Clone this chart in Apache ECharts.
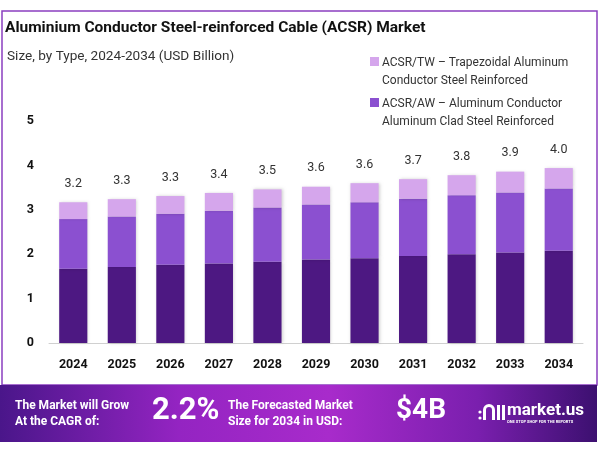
<!DOCTYPE html>
<html><head><meta charset="utf-8">
<script src="https://cdn.jsdelivr.net/npm/echarts@6/dist/echarts.min.js"></script>
<style>html,body{margin:0;padding:0;background:#fff}#c{width:600px;height:452px}</style>
</head><body><div id="c"></div>
<script>
const years = ['2024','2025','2026','2027','2028','2029','2030','2031','2032','2033','2034'];
const seriesNames = ['ACSR', 'ACSR/AW – Aluminum Conductor\nAluminum Clad Steel Reinforced', 'ACSR/TW – Trapezoidal Aluminum\nConductor Steel Reinforced'];
const baseValues = [1.67,1.71,1.76,1.79,1.83,1.88,1.91,1.96,2.00,2.04,2.08];
const awValues   = [1.12,1.14,1.15,1.19,1.22,1.24,1.26,1.29,1.33,1.35,1.40];
const twValues   = [0.38,0.39,0.40,0.40,0.41,0.40,0.43,0.44,0.45,0.47,0.46];
const totals     = ['3.2','3.3','3.3','3.4','3.5','3.6','3.6','3.7','3.8','3.9','4.0'];
const colors = ['#4d1882','#8b50d0','#d5a6ec'];

const chart = echarts.init(document.getElementById('c'), null, {renderer:'canvas'});
const shadow = {shadowBlur:3, shadowColor:'rgba(0,0,0,0.18)', shadowOffsetX:1, shadowOffsetY:0};
const mkSeries = (i, data, extra) => Object.assign({
  name: seriesNames[i], type:'bar', stack:'s', data: data, barWidth:'58%',
  itemStyle: Object.assign({color: colors[i]}, shadow)
}, extra||{});

const legendItems = [
  {color: colors[2], lines: seriesNames[2].split('\n'), y: 62},
  {color: colors[1], lines: seriesNames[1].split('\n'), y: 103}
];
const legendGraphics = [];
legendItems.forEach(it => {
  legendGraphics.push({type:'rect', shape:{x:370, y:it.y-5, width:9, height:9}, style:{fill:it.color}});
  legendGraphics.push({type:'text', x:382, y:it.y-8, style:{text: it.lines.join('\n'), fill:'#333', font:'12px Roboto', lineHeight:18}});
});

chart.setOption({
  animation:false,
  grid:{left:49, right:17, top:121, bottom:109},
  xAxis:{type:'category', data:years, axisTick:{show:false},
    axisLine:{lineStyle:{color:'#d0d0d0'}},
    axisLabel:{color:'#111', fontWeight:'bold', fontSize:12.5, fontFamily:'Roboto', margin:15}},
  yAxis:{type:'value', min:0, max:5, interval:1, splitLine:{show:false},
    axisLabel:{color:'#111', fontWeight:'bold', fontSize:12.5, fontFamily:'Roboto', margin:15}},
  series:[
    mkSeries(0, baseValues),
    mkSeries(1, awValues),
    mkSeries(2, twValues, {label:{show:true, position:'top', distance:12, color:'#333', fontSize:12.5, fontFamily:'Roboto',
      formatter: p => totals[p.dataIndex]}})
  ],
  graphic:[
    {type:'rect', shape:{x:2, y:11, width:595, height:374}, style:{fill:'none', stroke:'#8a3fc0', lineWidth:1.5}, z:-1},
    {type:'text', x:5, y:20, style:{text:'Aluminium Conductor Steel-reinforced Cable (ACSR) Market', fill:'#111', font:'bold 15.5px Roboto'}},
    {type:'text', x:7, y:50, style:{text:'Size, by Type, 2024-2034 (USD Billion)', fill:'#333', font:'13.6px Roboto'}},
    ...legendGraphics,
    {type:'rect', shape:{x:0, y:385, width:597, height:57},
      style:{fill:{type:'linear', x:0, y:0, x2:1, y2:0, colorStops:[
        {offset:0, color:'#4a168a'},{offset:0.3, color:'#9424c2'},{offset:0.55, color:'#a82bcb'},
        {offset:0.8, color:'#7a1fae'},{offset:1, color:'#3c1070'}]}}},
    {type:'text', x:15, y:398, style:{text:'The Market will Grow\nAt the CAGR of:', fill:'#fff', font:'bold 12px Roboto', lineHeight:16}},
    {type:'text', x:152, y:396, style:{text:'2.2%', fill:'#fff', font:'bold 31px Roboto', shadowBlur:4, shadowColor:'rgba(0,0,0,0.35)', shadowOffsetY:2}},
    {type:'text', x:228, y:398, style:{text:'The Forecasted Market\nSize for 2034 in USD:', fill:'#fff', font:'bold 12px Roboto', lineHeight:16}},
    {type:'text', x:396, y:397, style:{text:'$4B', fill:'#fff', font:'bold 28px Roboto', shadowBlur:4, shadowColor:'rgba(0,0,0,0.35)', shadowOffsetY:2}},
    {type:'circle', shape:{cx:480, cy:412, r:1.6}, style:{fill:'#fff'}},
    {type:'circle', shape:{cx:480, cy:418, r:1.6}, style:{fill:'#fff'}},
    {type:'arc', shape:{cx:489, cy:410, r:4.5, startAngle:Math.PI, endAngle:2*Math.PI}, style:{fill:'none', stroke:'#fff', lineWidth:3}},
    {type:'rect', shape:{x:483, y:410, width:3, height:10}, style:{fill:'#fff'}},
    {type:'rect', shape:{x:492, y:410, width:3, height:10}, style:{fill:'#fff'}},
    {type:'rect', shape:{x:497, y:405, width:3, height:15}, style:{fill:'#fff'}},
    {type:'rect', shape:{x:502, y:405, width:3, height:15}, style:{fill:'#fff'}},
    {type:'text', x:507, y:402, style:{text:'market.us', fill:'#fff', font:'bold 17px Roboto'}},
    {type:'text', x:507, y:420, style:{text:'ONE STOP SHOP FOR THE REPORTS', fill:'#fff', font:'bold 4px Roboto'}}
  ]
});
</script></body></html>
